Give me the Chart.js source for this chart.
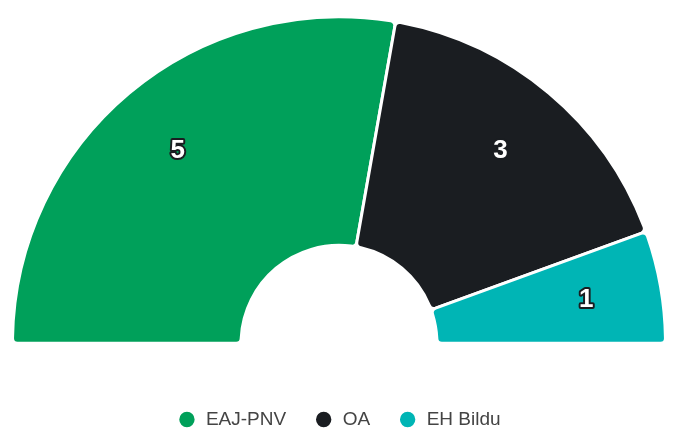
<!DOCTYPE html>
<html>
<head>
<meta charset="utf-8">
<script src="https://cdn.jsdelivr.net/npm/chart.js@4"></script>
<style>
  html, body { margin: 0; padding: 0; background: #fff; }
  #wrap { width: 678px; height: 428px; position: relative; }
</style>
</head>
<body>
<div id="wrap"><canvas id="seats"></canvas></div>
<script>
const parties = ['EAJ-PNV', 'OA', 'EH Bildu'];
const seats = [5, 3, 1];
const partyColors = ['#00a05a', '#1a1d21', '#00b5b5'];

// draws the seat count inside each slice
const seatLabels = {
    id: 'seatLabels',
    afterDatasetsDraw(chart) {
        const ctx = chart.ctx;
        const meta = chart.getDatasetMeta(0);
        ctx.save();
        ctx.font = 'bold 26px "Liberation Sans", Arial, sans-serif';
        ctx.textAlign = 'center';
        ctx.textBaseline = 'middle';
        ctx.lineJoin = 'round';
        meta.data.forEach((arc, i) => {
            const p = arc.getProps(['x', 'y', 'startAngle', 'endAngle', 'innerRadius', 'outerRadius']);
            const mid = (p.startAngle + p.endAngle) / 2;
            const r = p.innerRadius + 0.67 * (p.outerRadius - p.innerRadius);
            const x = p.x + Math.cos(mid) * r;
            const y = p.y + Math.sin(mid) * r;
            ctx.lineWidth = 4;
            ctx.strokeStyle = '#1a1d21';
            ctx.strokeText(String(seats[i]), x, y);
            ctx.fillStyle = '#ffffff';
            ctx.fillText(String(seats[i]), x, y);
        });
        ctx.restore();
    }
};

// fixes legend box height so the arc sits where it should
const legendHeight = {
    id: 'legendHeight',
    beforeInit(chart) {
        const fit = chart.legend.fit;
        chart.legend.fit = function() {
            fit.call(this);
            this.height = 80;
        };
    }
};

new Chart(document.getElementById('seats'), {
    type: 'doughnut',
    data: {
        labels: parties,
        datasets: [{
            data: seats,
            backgroundColor: partyColors,
            borderColor: '#ffffff',
            borderWidth: 3,
            borderRadius: 5
        }]
    },
    options: {
        responsive: true,
        maintainAspectRatio: false,
        animation: false,
        rotation: -90,
        circumference: 180,
        cutout: '30%',
        layout: { padding: { left: 11, right: 11, top: 12, bottom: 0 } },
        plugins: {
            tooltip: { enabled: false },
            legend: {
                position: 'bottom',
                title: { display: true, text: '', padding: { top: 22, bottom: 0 }, font: { size: 10 } },
                labels: {
                    usePointStyle: true,
                    pointStyle: 'circle',
                    boxWidth: 19,
                    boxHeight: 13,
                    padding: 28,
                    color: '#444',
                    font: { family: '"Liberation Sans", Arial, sans-serif', size: 19 }
                }
            }
        }
    },
    plugins: [seatLabels, legendHeight]
});
</script>
</body>
</html>
